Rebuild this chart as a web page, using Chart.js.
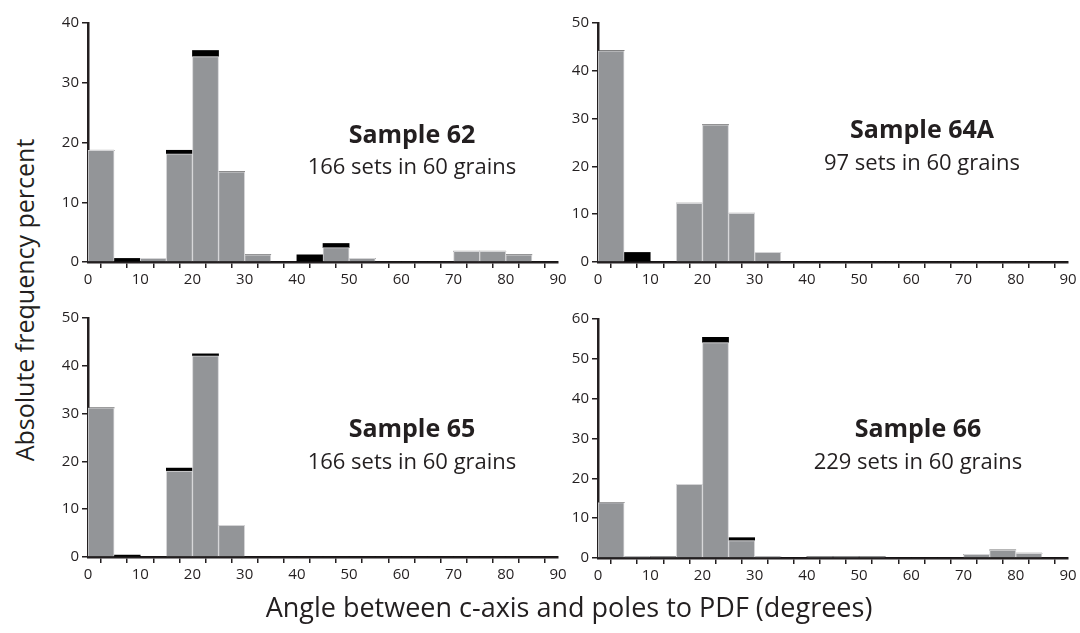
<!DOCTYPE html>
<html>
<head>
<meta charset="utf-8">
<script src="https://cdn.jsdelivr.net/npm/chart.js@4.4.1/dist/chart.umd.min.js"></script>
<style>
  body { margin: 0; background: #fff; font-family: "Open Sans", sans-serif; color: #231f20; }
  #wrap { position: relative; width: 1080px; height: 633px; overflow: hidden; }
  .box { position: absolute; width: 522px; height: 281px; }
  .lbl { position: absolute; text-align: center; white-space: nowrap; transform: translate(-50%, -50%); }
  .t { font-weight: bold; font-size: 25px; }
  .s { font-size: 22px; }
  #ytitle { position: absolute; left: 24px; top: 300px; font-size: 25px; white-space: nowrap; transform: translate(-50%, -50%) rotate(-90deg); }
  #xtitle { position: absolute; left: 569px; top: 606px; font-size: 27px; white-space: nowrap; transform: translate(-50%, -50%); }
</style>
</head>
<body>
<div id="wrap">
  <div class="box" style="left:48px;top:11px"><canvas id="c62"></canvas></div>
  <div class="box" style="left:558px;top:11px"><canvas id="c64"></canvas></div>
  <div class="box" style="left:48px;top:306px"><canvas id="c65"></canvas></div>
  <div class="box" style="left:558px;top:307px"><canvas id="c66"></canvas></div>

  <div class="lbl t" style="left:412px;top:133px">Sample 62</div>
  <div class="lbl s" style="left:412px;top:165px">166 sets in 60 grains</div>
  <div class="lbl t" style="left:922px;top:128px">Sample 64A</div>
  <div class="lbl s" style="left:922px;top:161px">97 sets in 60 grains</div>
  <div class="lbl t" style="left:412px;top:427px">Sample 65</div>
  <div class="lbl s" style="left:412px;top:460px">166 sets in 60 grains</div>
  <div class="lbl t" style="left:918px;top:427px">Sample 66</div>
  <div class="lbl s" style="left:918px;top:460px">229 sets in 60 grains</div>

  <div id="ytitle">Absolute frequency percent</div>
  <div id="xtitle">Angle between c-axis and poles to PDF (degrees)</div>
</div>
<script>
// bin centres, 5 degree bins from 0 to 90
var bins = [2.5, 7.5, 12.5, 17.5, 22.5, 27.5, 32.5, 37.5, 42.5, 47.5, 52.5, 57.5, 62.5, 67.5, 72.5, 77.5, 82.5, 87.5];

var gray62  = [18.7, 0, 0.6, 18.1, 34.4, 15.1, 1.2, 0, 0, 2.4, 0.6, 0, 0, 0, 1.8, 1.8, 1.2, 0];
var black62 = [0, 0.6, 0, 0.6, 1.0, 0, 0, 0, 1.2, 0.7, 0, 0, 0, 0, 0, 0, 0, 0];

var gray64  = [44.2, 0, 0, 12.3, 28.7, 10.2, 2.0, 0, 0, 0, 0, 0, 0, 0, 0, 0, 0, 0];
var black64 = [0, 2.0, 0, 0, 0, 0, 0, 0, 0, 0, 0, 0, 0, 0, 0, 0, 0, 0];

var gray65  = [31.2, 0, 0, 18.0, 42.1, 6.6, 0, 0, 0, 0, 0, 0, 0, 0, 0, 0, 0, 0];
var black65 = [0, 0.4, 0, 0.6, 0.4, 0, 0, 0, 0, 0, 0, 0, 0, 0, 0, 0, 0, 0];

var gray66  = [13.9, 0.4, 0.3, 18.5, 54.1, 4.4, 0.4, 0, 0.3, 0.3, 0.3, 0, 0, 0, 0.9, 2.0, 1.2, 0];
var black66 = [0, 0, 0, 0, 1.3, 0.7, 0, 0, 0, 0, 0, 0, 0, 0, 0, 0, 0, 0];

var xTicks = [0, 10, 20, 30, 40, 50, 60, 70, 80, 90];

function pts(vals) {
	return vals.map(function (v, i) { return { x: bins[i], y: v }; });
}

function makeChart(id, gray, black, yMax) {
	new Chart(document.getElementById(id), {
		type: 'bar',
		data: {
			datasets: [{
				data: pts(gray),
				backgroundColor: '#939598',
				borderColor: '#d4d4d6',
				borderWidth: 1,
				barPercentage: 1,
				categoryPercentage: 1
			}, {
				data: pts(black),
				backgroundColor: '#000',
				borderWidth: 0,
				barPercentage: 1,
				categoryPercentage: 1
			}]
		},
		options: {
			responsive: true,
			maintainAspectRatio: false,
			animation: false,
			layout: { padding: { top: 8, right: 12, left: 0, bottom: 0 } },
			plugins: { legend: { display: false }, tooltip: { enabled: false } },
			scales: {
				x: {
					type: 'linear',
					stacked: true,
					min: 0,
					max: 90,
					offset: false,
					afterFit: function (s) { s.height = 30; },
					ticks: {
						stepSize: 5,
						autoSkip: false,
						maxRotation: 0,
						color: '#231f20',
						font: { family: 'Open Sans', size: 15 },
						padding: 3,
						callback: function (v) { return xTicks.indexOf(v) >= 0 ? v : ''; }
					},
					grid: { drawOnChartArea: false, drawTicks: true, tickLength: 6, color: '#231f20', lineWidth: 1.5 },
					border: { color: '#231f20', width: 2.5 }
				},
				y: {
					stacked: true,
					min: 0,
					max: yMax,
					afterFit: function (s) { s.width = 40; },
					ticks: {
						stepSize: 10,
						color: '#231f20',
						font: { family: 'Open Sans', size: 15 },
						padding: 3
					},
					grid: { drawOnChartArea: false, drawTicks: true, tickLength: 6, color: '#231f20', lineWidth: 1.5 },
					border: { color: '#231f20', width: 2.5 }
				}
			}
		}
	});
}

makeChart('c62', gray62, black62, 40);
makeChart('c64', gray64, black64, 50);
makeChart('c65', gray65, black65, 50);
makeChart('c66', gray66, black66, 60);
</script>
</body>
</html>
